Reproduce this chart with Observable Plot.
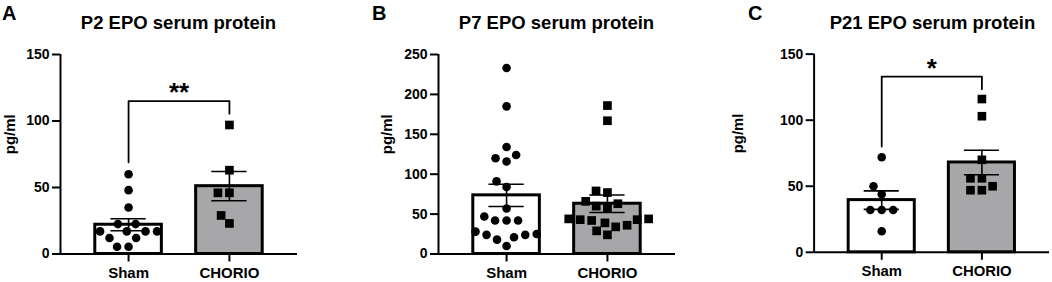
<!DOCTYPE html>
<html>
<head>
<meta charset="utf-8">
<script src="https://cdn.jsdelivr.net/npm/d3@7"></script>
<script src="https://cdn.jsdelivr.net/npm/@observablehq/plot@0.6"></script>
<style>
  html, body { margin: 0; padding: 0; background: #fff; overflow: hidden; }
  #root { position: relative; width: 1052px; height: 282px; font-family: "Liberation Sans", Arial, sans-serif; color: #000; }
  .panel { position: absolute; top: 0; }
  .title { position: absolute; text-align: center; font-weight: bold; font-size: 18.5px; line-height: 1; white-space: nowrap; }
  .letter { position: absolute; font-weight: bold; font-size: 20px; line-height: 1; }
</style>
</head>
<body>
<div id="root"></div>
<script>
// ---- data ----
const groups = ["Sham", "CHORIO"];
const panelLetters = ["A", "B", "C"];
const panelTitles = ["P2 EPO serum protein", "P7 EPO serum protein", "P21 EPO serum protein"];
const yLabel = "pg/ml";

const p2Sham   = [60, 48, 35, 22.5, 22.5, 17, 17, 17, 17, 12, 12, 5.5, 5.5];
const p2Chorio = [97, 63, 46, 46, 29, 23];
const p2Mean   = [22, 51];
const p2Sem    = [4.5, 11];
const p2Ticks  = [0, 50, 100, 150];

const p7Sham   = [233, 185, 134, 124, 120, 116, 91, 84, 57, 47, 42, 42, 42, 28, 25, 24, 24, 21, 18, 10];
const p7Chorio = [186, 167, 79, 77, 66, 63, 60, 57, 44, 44, 43, 43, 42, 39, 36, 34, 29, 24];
const p7Mean   = [73.5, 63];
const p7Sem    = [14, 11];
const p7Ticks  = [0, 50, 100, 150, 200, 250];

const p21Sham   = [72, 50, 44, 32, 32, 32, 16];
const p21Chorio = [116, 103, 70, 56, 56, 50, 47, 47];
const p21Mean   = [39.5, 68];
const p21Sem    = [7, 9.3];
const p21Ticks  = [0, 50, 100, 150];

// significance brackets: leg bottoms and top, in pg/ml
const p2Bracket  = {left: 69, top: 115, right: 105.5, label: "**"};
const p21Bracket = {left: 80, top: 133, right: 123.5, label: "*"};

// ---- layout / style ----
const W = 300, H = 282, ML = 60, MR = 3, MT = 54, MB = 28.5;
const pad = 0.675, barWidth = 0.66, capWidth = 0.35, dotGap = 11.5;
const panelLeft = [0, 378, 754];
const letterLeft = [2, 372, 748];
const yLabelDx = [-50, -51.5, -76];

// simple beeswarm layout: computes horizontal offsets (in group units) from the values
function swarm(values, ky, kx, d) {
  const order = d3.range(values.length).sort((a, b) => values[a] - values[b]);
  const xs = new Array(values.length);
  const placed = [];
  for (const i of order) {
    const y = values[i] * ky;
    const cands = [0];
    for (const p of placed) {
      const dy = Math.abs(p.y - y);
      if (dy < d) { const dx = Math.sqrt(d * d - dy * dy); cands.push(p.x + dx, p.x - dx); }
    }
    cands.sort((a, b) => Math.abs(a) - Math.abs(b) || a - b);
    const x = cands.find(c => placed.every(p => (p.x - c) ** 2 + (p.y - y) ** 2 >= d * d - 1e-6));
    placed.push({x, y});
    xs[i] = x / kx;
  }
  return xs;
}

function panel(k, sham, chorio, mean, sem, ticks, bracket) {
  const yMax = ticks[ticks.length - 1];
  const xDom = [-pad, 1 + pad];
  const kx = (W - ML - MR) / (1 + 2 * pad);
  const ky = (H - MT - MB) / yMax;
  const sOff = swarm(sham, ky, kx, dotGap);
  const cOff = swarm(chorio, ky, kx, dotGap);
  const shamPts = sham.map((v, j) => ({x: 0 + sOff[j], y: v}));
  const chorioPts = chorio.map((v, j) => ({x: 1 + cOff[j], y: v}));
  const summary = groups.map((g, i) => ({i, g, mean: mean[i], lo: mean[i] - sem[i], hi: mean[i] + sem[i]}));

  const marks = [
    Plot.rectY(summary, {x1: d => d.i - barWidth / 2, x2: d => d.i + barWidth / 2, y: "mean",
      fill: d => d.i === 0 ? "#ffffff" : "#a7a7a9", stroke: "#000", strokeWidth: 3}),
    Plot.ruleX(summary, {x: "i", y1: "lo", y2: "hi", stroke: "#000", strokeWidth: 1.6}),
    Plot.ruleY(summary, {x1: d => d.i - capWidth / 2, x2: d => d.i + capWidth / 2, y: "hi", stroke: "#000", strokeWidth: 1.6}),
    Plot.ruleY(summary, {x1: d => d.i - capWidth / 2, x2: d => d.i + capWidth / 2, y: "lo", stroke: "#000", strokeWidth: 1.6}),
    Plot.dot(shamPts, {x: "x", y: "y", symbol: "circle", r: 4.3, fill: "#000", stroke: null}),
    Plot.dot(chorioPts, {x: "x", y: "y", symbol: "square", r: 4.9, fill: "#000", stroke: null}),
    Plot.ruleY([0], {stroke: "#000", strokeWidth: 2}),
    Plot.ruleX([xDom[0]], {y1: 0, y2: yMax, stroke: "#000", strokeWidth: 2}),
    Plot.axisY(ticks, {tickSize: 8, tickPadding: 3, strokeWidth: 2, label: null, fontSize: 14}),
    Plot.axisX([0, 1], {tickFormat: i => groups[i], tickSize: 8, tickPadding: 5, strokeWidth: 2, fontSize: 15, label: null}),
    Plot.text([yLabel], {text: d => d, frameAnchor: "left", rotate: -90, dx: yLabelDx[k], fontSize: 15, fontWeight: "bold"})
  ];
  if (bracket) {
    const pts = [{x: 0, y: bracket.left}, {x: 0, y: bracket.top}, {x: 1, y: bracket.top}, {x: 1, y: bracket.right}];
    marks.push(Plot.line(pts, {x: "x", y: "y", stroke: "#000", strokeWidth: 1.8}));
    marks.push(Plot.text([bracket], {x: () => 0.5, y: "top", text: "label", dy: -8, fontSize: 26, fontWeight: "bold", lineAnchor: "middle"}));
  }

  const svg = Plot.plot({
    width: W, height: H,
    marginLeft: ML, marginRight: MR, marginTop: MT, marginBottom: MB,
    x: {type: "linear", domain: xDom},
    y: {domain: [0, yMax]},
    style: {fontFamily: "'Liberation Sans', Arial, sans-serif", fontSize: "14px", fontWeight: "bold", color: "#000", background: "transparent", overflow: "visible"},
    marks
  });

  const root = document.getElementById("root");
  const wrap = document.createElement("div");
  wrap.className = "panel";
  wrap.style.left = panelLeft[k] + "px";
  wrap.appendChild(svg);
  root.appendChild(wrap);

  const t = document.createElement("div");
  t.className = "title";
  t.textContent = panelTitles[k];
  t.style.left = (panelLeft[k] + ML) + "px";
  t.style.width = (W - ML - MR) + "px";
  t.style.top = "13.6px";
  root.appendChild(t);

  const l = document.createElement("div");
  l.className = "letter";
  l.textContent = panelLetters[k];
  l.style.left = letterLeft[k] + "px";
  l.style.top = "3px";
  root.appendChild(l);
}

panel(0, p2Sham, p2Chorio, p2Mean, p2Sem, p2Ticks, p2Bracket);
panel(1, p7Sham, p7Chorio, p7Mean, p7Sem, p7Ticks, null);
panel(2, p21Sham, p21Chorio, p21Mean, p21Sem, p21Ticks, p21Bracket);
</script>
</body>
</html>
